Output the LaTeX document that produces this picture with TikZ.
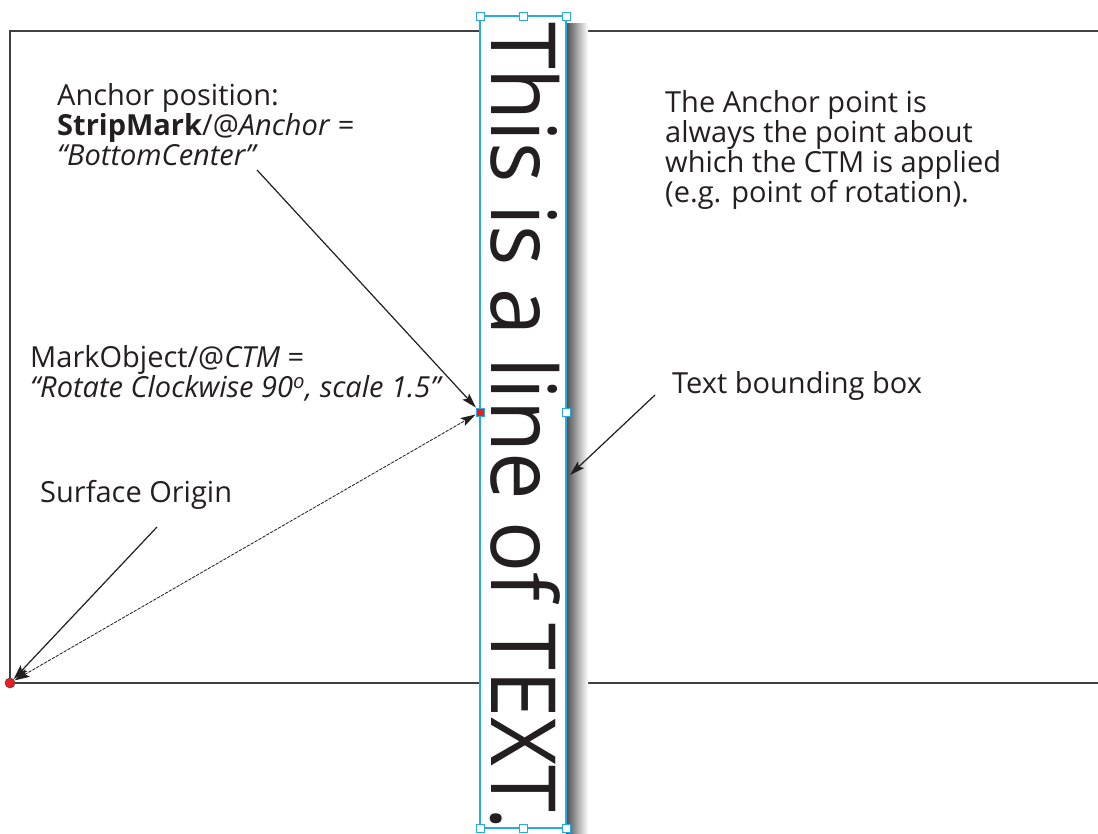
\documentclass[tikz,border=0pt]{standalone}
\usepackage{fontspec}
\setmainfont{Open Sans}
\newfontfamily\stripfont{Open Sans}[FakeStretch=0.94]
\usetikzlibrary{arrows.meta}
\definecolor{boxblue}{RGB}{41,171,226}
\definecolor{ink}{RGB}{35,31,32}
\definecolor{markred}{RGB}{237,28,36}

\begin{document}
\begin{tikzpicture}[x=1pt,y=-1pt,
	>={Stealth[length=15pt,width=9pt,inset=3pt]},
	lbl/.style={anchor=west,align=left,inner sep=0pt,text=ink,font=\fontsize{29}{30}\selectfont},
	handle/.style={draw=boxblue,fill=white,line width=0.9pt,minimum size=8pt,inner sep=0pt},
	pointer/.style={->,line width=1.2pt,draw=ink,fill=ink}]

	\useasboundingbox (0,0) rectangle (1098,834);

	% surface
	\draw[line width=1.4pt,black!75] (1098,31) -- (10,31) -- (10,683) -- (1098,683);

	% text box with its shadow
	\fill[left color=black!70,right color=white] (566,24) rectangle (588,834);
	\draw[boxblue,fill=white,line width=1.4pt] (480,16) rectangle (566,828);
	\node[rotate=-90,anchor=base west,inner sep=0pt,text=ink,font=\stripfont\fontsize{90}{90}\selectfont]
	  (strip) at (491,22) {This is a line of TEXT.};

	\node[handle] (htl) at (480,16) {};
	\node[handle] (htc) at (523,16) {};
	\node[handle] (htr) at (566,16) {};
	\node[handle] (hbl) at (480,828) {};
	\node[handle] (hbc) at (523,828) {};
	\node[handle] (hbr) at (566,828) {};
	\node[handle] (hmr) at (566,412) {};
	\node[handle,fill=markred] (anch) at (480,412) {};

	% origin
	\node[circle,fill=markred,draw=black!70,line width=0.6pt,minimum size=10pt,inner sep=0pt] (orig) at (10,683) {};

	% labels
	\node[lbl] (anchlbl) at (57,125) {Anchor position:\\
	  \textbf{StripMark}/@\textit{Anchor} =\\
	  \textit{``BottomCenter''}};
	\node[lbl] (ctmlbl) at (30,373) {MarkObject/@\textit{CTM} =\\
	  \textit{``Rotate Clockwise 90\textsuperscript{o}, scale 1.5''}};
	\node[lbl] (origlbl) at (40,495) {Surface Origin};
	\node[lbl] (notelbl) at (665,150) {The Anchor point is\\
	  always the point about\\
	  which the CTM is applied\\
	  (e.g. point of rotation).};
	\node[lbl] (bboxlbl) at (672,386) {Text bounding box};

	% pointers
	\coordinate (anchtail) at (257,170);
	\coordinate (origtail) at (157,527);
	\coordinate (bboxtail) at (655,395);
	\coordinate (bboxtip) at (570,475);
	\draw[pointer] (anchtail) -- (anch);
	\draw[pointer] (origtail) -- (orig);
	\draw[pointer] (bboxtail) -- (bboxtip);
	\draw[pointer,<->,dashed,dash pattern=on 3pt off 1.5pt,line width=0.8pt] (orig) -- (anch);

\end{tikzpicture}
\end{document}
